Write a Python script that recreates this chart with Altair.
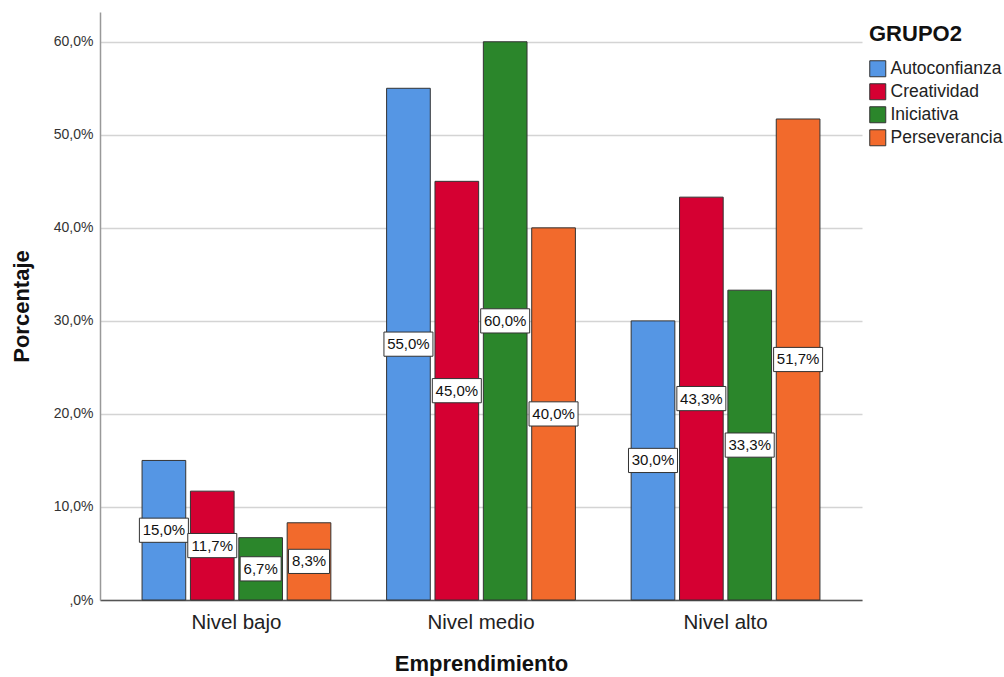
import altair as alt
import pandas as pd

# Emprendimiento levels and the four GRUPO2 groups
niveles = ["Nivel bajo", "Nivel medio", "Nivel alto"]
grupos = ["Autoconfianza", "Creatividad", "Iniciativa", "Perseverancia"]

# Percentages per level, one list per group
autoconfianza = [15.0, 55.0, 30.0]
creatividad = [11.7, 45.0, 43.3]
iniciativa = [6.7, 60.0, 33.3]
perseverancia = [8.3, 40.0, 51.7]

colores = ["#5596e4", "#d50032", "#2b862b", "#f26a2c"]
y_ticks = [0, 10, 20, 30, 40, 50, 60]

series = dict(zip(grupos, [autoconfianza, creatividad, iniciativa, perseverancia]))
rows = []
for g, vals in series.items():
    for n, v in zip(niveles, vals):
        txt = f"{v:.1f}".replace(".", ",") + "%"
        rows.append({
            "nivel": n, "grupo": g, "pct": v, "mid": v / 2,
            "lo": v / 2 - 1.3, "hi": v / 2 + 1.3,
            "etiqueta": txt, "ancho": 49 if len(txt) > 4 else 41,
        })
df = pd.DataFrame(rows)

FONT = "Liberation Sans"

x_enc = alt.X(
    "nivel:N", sort=niveles, title="Emprendimiento",
    scale=alt.Scale(paddingInner=0.228, paddingOuter=0.172),
    axis=alt.Axis(labelAngle=0, labelFontSize=20.5, labelColor="#222", labelPadding=12,
                  ticks=False, titleFontSize=22, titleFontWeight="bold", titleColor="#111",
                  titlePadding=21, domainColor="#555", domainWidth=1.5, grid=False),
)
xoff = alt.XOffset("grupo:N", sort=grupos,
                   scale=alt.Scale(paddingInner=0.097, paddingOuter=0))
y_scale = alt.Scale(domain=[0, 63.2], nice=False, zero=True)

bars = alt.Chart(df).mark_bar(stroke="#333", strokeWidth=1).encode(
    x=x_enc,
    xOffset=xoff,
    y=alt.Y("pct:Q", scale=y_scale, title="Porcentaje",
            axis=alt.Axis(values=y_ticks,
                          labelExpr="datum.value == 0 ? ',0%' : replace(format(datum.value, '.1f'), '.', ',') + '%'",
                          labelFontSize=14, labelColor="#333", labelPadding=7, ticks=False,
                          titleFontSize=22, titleFontWeight="bold", titleColor="#111",
                          titlePadding=20, domainColor="#999", domainWidth=1.5,
                          grid=True, gridColor="#d4d4d4", gridWidth=1.5)),
    fill=alt.Fill("grupo:N", sort=grupos, scale=alt.Scale(domain=grupos, range=colores),
                  legend=alt.Legend(title="GRUPO2", orient="none", legendX=769, legendY=12,
                                    symbolType="square", symbolSize=256,
                                    symbolStrokeColor="#333", symbolStrokeWidth=1,
                                    labelFontSize=17.5, labelColor="#222", labelOffset=4,
                                    titleFontSize=22, titleFontWeight="bold", titleColor="#111",
                                    titlePadding=14, rowPadding=2)),
)

boxes = alt.Chart(df).mark_bar(fill="white", stroke="#333", strokeWidth=1).encode(
    x=alt.X("nivel:N", sort=niveles),
    xOffset=xoff,
    y=alt.Y("lo:Q", scale=y_scale),
    y2="hi:Q",
    size=alt.Size("ancho:Q", scale=None, legend=None),
)

labels = alt.Chart(df).mark_text(fontSize=15, color="#111", font=FONT).encode(
    x=alt.X("nivel:N", sort=niveles),
    xOffset=xoff,
    y=alt.Y("mid:Q", scale=y_scale),
    text="etiqueta:N",
)

chart = alt.layer(bars, boxes, labels).properties(
    width=762, height=588,
    padding={"left": 100, "top": 12, "right": 142, "bottom": 77},
    autosize="none",
).configure(font=FONT).configure_view(stroke=None)

chart.save("out.html", embed_options={"renderer": "svg", "actions": False})
